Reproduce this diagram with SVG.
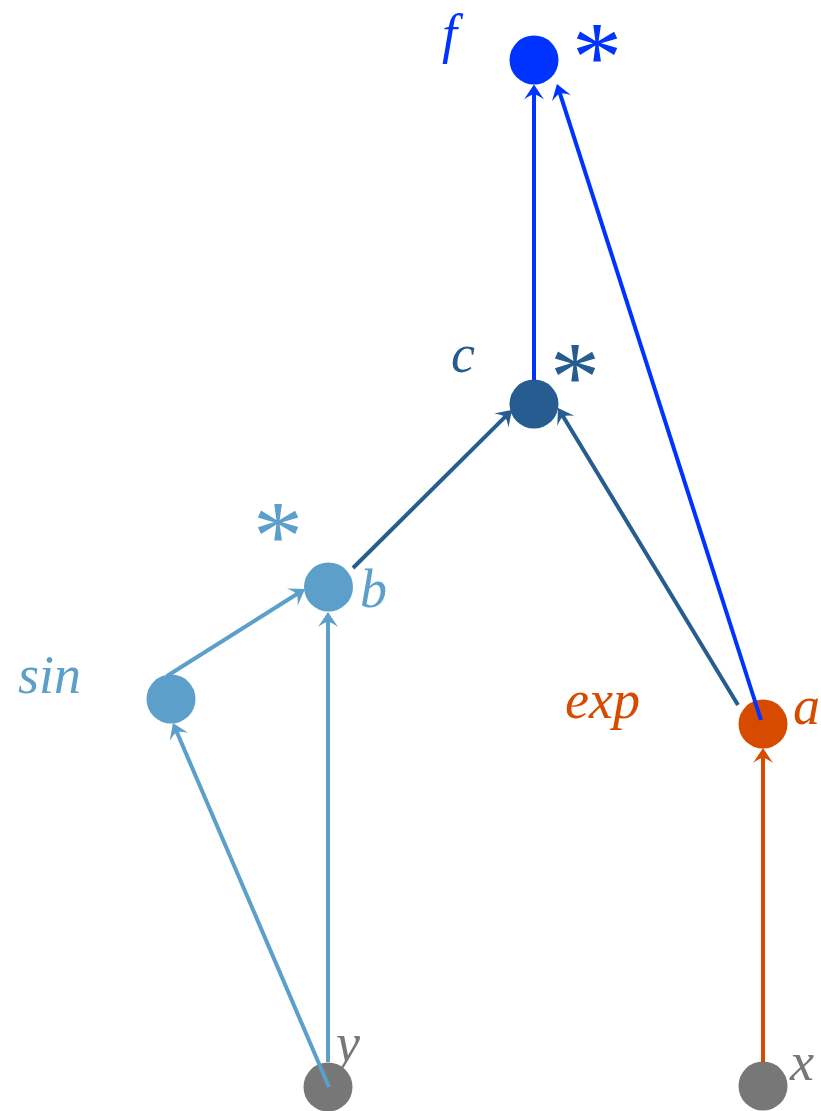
<svg xmlns="http://www.w3.org/2000/svg" width="821" height="1111" viewBox="0 0 821 1111">
<style>
.lbl{font-family:'Liberation Serif','DejaVu Serif',serif;font-style:italic;font-size:54px}
.ast{font-family:'Liberation Serif','DejaVu Serif',serif;font-size:100px;text-anchor:middle}
.e{fill:none;stroke-width:4}
.blue{fill:#0033ff}.dark{fill:#265c90}.light{fill:#5b9fca}.orange{fill:#d64b00}.gray{fill:#777777}
</style>
<defs>
<marker id="m-blue" viewBox="-7 -11 17 22" refX="0" refY="0" markerWidth="17" markerHeight="22" markerUnits="userSpaceOnUse" orient="auto"><path d="M9,0 L-6,-10 Q-1,-3 -1,0 Q-1,3 -6,10 Z" fill="#0033ff"/></marker>
<marker id="m-dark" viewBox="-7 -11 17 22" refX="0" refY="0" markerWidth="17" markerHeight="22" markerUnits="userSpaceOnUse" orient="auto"><path d="M9,0 L-6,-10 Q-1,-3 -1,0 Q-1,3 -6,10 Z" fill="#265c90"/></marker>
<marker id="m-light" viewBox="-7 -11 17 22" refX="0" refY="0" markerWidth="17" markerHeight="22" markerUnits="userSpaceOnUse" orient="auto"><path d="M9,0 L-6,-10 Q-1,-3 -1,0 Q-1,3 -6,10 Z" fill="#5b9fca"/></marker>
<marker id="m-orange" viewBox="-7 -11 17 22" refX="0" refY="0" markerWidth="17" markerHeight="22" markerUnits="userSpaceOnUse" orient="auto"><path d="M9,0 L-6,-10 Q-1,-3 -1,0 Q-1,3 -6,10 Z" fill="#d64b00"/></marker>
</defs>
<rect width="821" height="1111" fill="#ffffff"/>
<g id="node-f"><circle cx="534" cy="60" r="24.5" class="blue"/><text x="442" y="52" class="lbl blue">f</text><text x="597" y="90" class="ast blue">*</text></g>
<g id="node-c"><circle cx="534" cy="404" r="24.5" class="dark"/><text x="451" y="372" class="lbl dark">c</text><text x="575" y="410" class="ast dark">*</text></g>
<g id="node-b"><circle cx="328.5" cy="587" r="24.5" class="light"/><text x="360" y="607" class="lbl light">b</text><text x="278" y="569" class="ast light">*</text></g>
<g id="node-sin"><circle cx="171" cy="699" r="24.5" class="light"/><text x="18" y="693" class="lbl light">sin</text></g>
<g id="node-a"><circle cx="763" cy="724" r="24.5" class="orange"/><text x="793" y="724" class="lbl orange">a</text><text x="565" y="718" class="lbl orange">exp</text></g>
<g id="node-y"><circle cx="328" cy="1087" r="24.5" class="gray"/><text x="336" y="1061" class="lbl gray">y</text></g>
<g id="node-x"><circle cx="763" cy="1086" r="24.5" class="gray"/><text x="790" y="1080" class="lbl gray">x</text></g>
<g id="connectors">
<line x1="534" y1="380" x2="534" y2="93.5" class="e" stroke="#0033ff" marker-end="url(#m-blue)"/>
<line x1="761" y1="720" x2="559.7" y2="92.6" class="e" stroke="#0033ff" marker-end="url(#m-blue)"/>
<line x1="353" y1="568" x2="505.6" y2="416.3" class="e" stroke="#265c90" marker-end="url(#m-dark)"/>
<line x1="738" y1="705" x2="562.7" y2="415.7" class="e" stroke="#265c90" marker-end="url(#m-dark)"/>
<line x1="167" y1="676" x2="297.4" y2="593.8" class="e" stroke="#5b9fca" marker-end="url(#m-light)"/>
<line x1="328" y1="1062" x2="328" y2="621" class="e" stroke="#5b9fca" marker-end="url(#m-light)"/>
<line x1="329" y1="1087" x2="176.5" y2="731.3" class="e" stroke="#5b9fca" marker-end="url(#m-light)"/>
<line x1="763" y1="1062" x2="763" y2="757" class="e" stroke="#d64b00" marker-end="url(#m-orange)"/>
</g>
</svg>
